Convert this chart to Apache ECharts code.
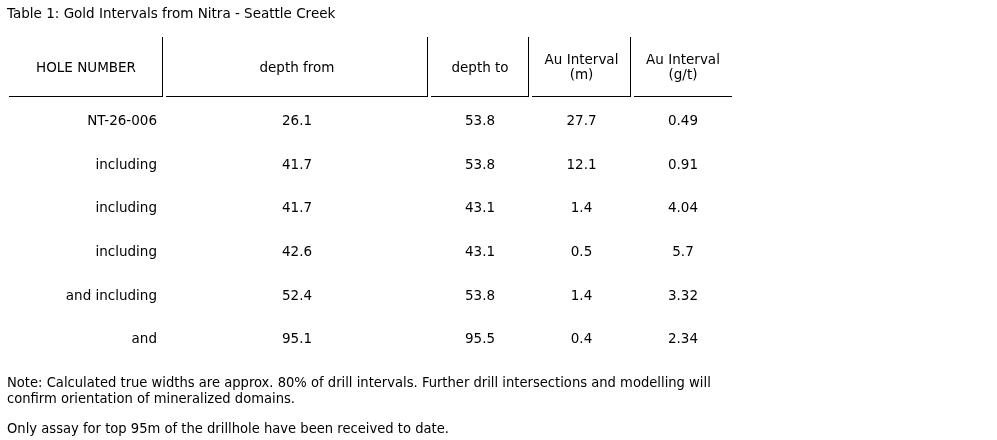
<!DOCTYPE html>
<html>
<head>
<meta charset="utf-8">
<script src="https://cdn.jsdelivr.net/npm/echarts@6/dist/echarts.min.js"></script>
<style>html,body{margin:0;padding:0;background:#fff}#c{width:997px;height:440px}</style>
</head>
<body>
<div id="c"></div>
<script>
// ---- data ----
const titleText = 'Table 1: Gold Intervals from Nitra - Seattle Creek';
const columns = ['HOLE NUMBER', 'depth from', 'depth to', 'Au Interval\n(m)', 'Au Interval\n(g/t)'];
const holeLabels = ['NT-26-006', 'including', 'including', 'including', 'and including', 'and'];
const depthFrom = [26.1, 41.7, 41.7, 42.6, 52.4, 95.1];
const depthTo = [53.8, 53.8, 43.1, 43.1, 53.8, 95.5];
const intervalM = [27.7, 12.1, 1.4, 0.5, 1.4, 0.4];
const gradeGT = [0.49, 0.91, 4.04, 5.7, 3.32, 2.34];
const noteText1 = 'Note: Calculated true widths are approx. 80% of drill intervals. Further drill intersections and modelling will\nconfirm orientation of mineralized domains.';
const noteText2 = 'Only assay for top 95m of the drillhole have been received to date.';

// ---- layout (pixel units on a 0..997 x axis) ----
const colEdges = [[9, 163], [166, 428], [431, 529], [532, 631], [634, 732]];
const FONT = '13.5px "DejaVu Sans"';
const NOTE_FONT = '"DejaVu Sans Condensed"';

const bodyCols = [holeLabels, depthFrom, depthTo, intervalM, gradeGT];
const bodyData = [];
bodyCols.forEach((col, c) => col.forEach((v, r) => bodyData.push([c, r, String(v)])));
const headerData = columns.map((t, c) => [c, 0, t]);

const chart = echarts.init(document.getElementById('c'), null, {renderer: 'canvas'});

function bodyRender(params, api) {
  const c = api.value(0), r = api.value(1);
  const text = bodyData[params.dataIndex][2];
  const e = colEdges[c];
  const y = api.coord([0, r])[1];
  const xl = api.coord([e[0], r])[0], xr = api.coord([e[1], r])[0];
  const right = c === 0;
  return {
    type: 'text',
    style: {
      text: text,
      x: right ? xr - 6 : (xl + xr) / 2,
      y: y + 0.5,
      align: right ? 'right' : 'center',
      verticalAlign: 'middle',
      font: FONT,
      fill: '#000'
    }
  };
}

function headerRender(params, api) {
  const c = api.value(0);
  const e = colEdges[c];
  const y = api.coord([0, 0])[1];
  const h = api.size([0, 1])[1];
  const xl = api.coord([e[0], 0])[0], xr = api.coord([e[1], 0])[0];
  const top = y - h / 2, bottom = y + h / 2;
  const children = [
    {
      type: 'text',
      style: {
        text: headerData[params.dataIndex][2],
        x: (xl + xr) / 2, y: y + 1,
        align: 'center', verticalAlign: 'middle',
        font: FONT, lineHeight: 15, fill: '#000'
      }
    },
    {
      type: 'line',
      shape: {x1: xl, y1: bottom - 0.5, x2: xr, y2: bottom - 0.5},
      style: {stroke: '#000', lineWidth: 1}
    }
  ];
  if (c < columns.length - 1) {
    children.push({
      type: 'line',
      shape: {x1: xr - 0.5, y1: top, x2: xr - 0.5, y2: bottom},
      style: {stroke: '#000', lineWidth: 1}
    });
  }
  return {type: 'group', children: children};
}

const hiddenValueX = (gi) => ({type: 'value', gridIndex: gi, min: 0, max: 997, show: false});

chart.setOption({
  animation: false,
  backgroundColor: '#fff',
  title: [
    {text: titleText, left: 7, top: 7, padding: 0,
     textStyle: {fontFamily: 'DejaVu Sans', fontSize: 13.5, fontWeight: 'normal', color: '#000'}},
    {text: noteText1, left: 7, top: 375, padding: 0,
     textStyle: {fontFamily: NOTE_FONT, fontSize: 14.6, fontWeight: 'normal', color: '#000', lineHeight: 16}},
    {text: noteText2, left: 7, top: 421, padding: 0,
     textStyle: {fontFamily: NOTE_FONT, fontSize: 14.6, fontWeight: 'normal', color: '#000', lineHeight: 16}}
  ],
  grid: [
    {left: 0, right: 0, top: 37, height: 60},
    {left: 0, right: 0, top: 99, height: 262}
  ],
  xAxis: [hiddenValueX(0), hiddenValueX(1)],
  yAxis: [
    {type: 'category', gridIndex: 0, data: ['header'], show: false},
    {type: 'category', gridIndex: 1, data: holeLabels.map((_, i) => 'r' + i), inverse: true, show: false}
  ],
  series: [
    {type: 'custom', xAxisIndex: 0, yAxisIndex: 0, renderItem: headerRender, data: headerData, silent: true},
    {type: 'custom', xAxisIndex: 1, yAxisIndex: 1, renderItem: bodyRender, data: bodyData, silent: true}
  ]
});
</script>
</body>
</html>
